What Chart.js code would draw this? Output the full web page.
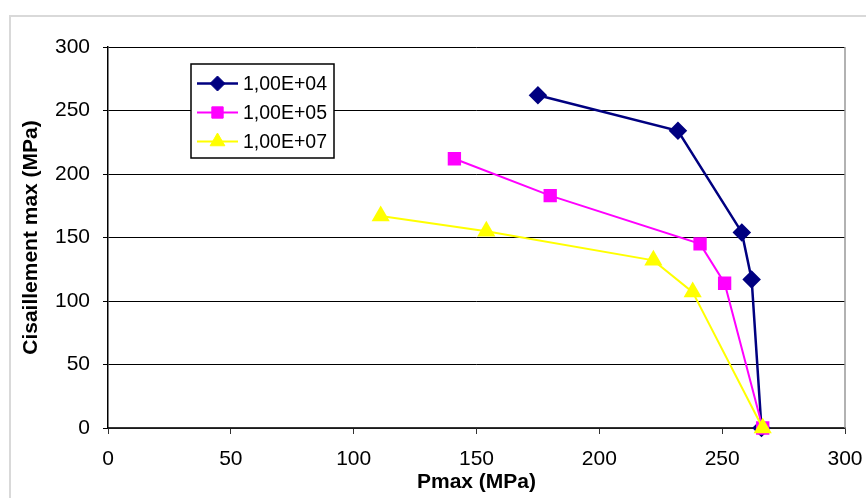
<!DOCTYPE html>
<html>
<head>
<meta charset="utf-8">
<script src="https://cdn.jsdelivr.net/npm/chart.js@4/dist/chart.umd.min.js"></script>
<style>
  html, body { margin: 0; padding: 0; background: #fff; }
  #wrap { width: 866px; height: 498px; }
</style>
</head>
<body>
<div id="wrap"><canvas id="shearChart" width="866" height="498"></canvas></div>
<script>
// valeurs
const seriesLabels = ['1,00E+04', '1,00E+05', '1,00E+07'];
const pmax1 = [175, 232, 258, 262, 266];
const tau1 = [262, 234, 154, 117, 0];
const pmax2 = [141, 180, 241, 251, 266.5];
const tau2 = [212, 183, 145, 114, 0];
const pmax3 = [111, 154, 222, 238, 266.5];
const tau3 = [167, 155, 132, 107, 0];
const axisTicks = [0, 50, 100, 150, 200, 250, 300];

const FONT = '"Liberation Sans", Arial, sans-serif';

function toPoints(xs, ys) {
    return xs.map((x, i) => ({ x: x, y: ys[i] }));
}

// cadre gris clair + bord droit de la zone de tracé + légende encadrée
const excelFrame = {
    id: 'excelFrame',
    beforeDraw(chart) {
        const ctx = chart.ctx;
        ctx.save();
        ctx.fillStyle = '#fff';
        ctx.fillRect(0, 0, chart.width, chart.height);
        ctx.strokeStyle = '#d9d9d9';
        ctx.lineWidth = 2;
        ctx.strokeRect(10, 16, 900, 600);
        ctx.restore();
    },
    afterDatasetsDraw(chart) {
        const ctx = chart.ctx;
        const a = chart.chartArea;
        ctx.save();
        ctx.strokeStyle = '#999';
        ctx.lineWidth = 1.5;
        ctx.beginPath();
        ctx.moveTo(a.right, a.top);
        ctx.lineTo(a.right, a.bottom);
        ctx.stroke();

        // légende
        const bx = 191, by = 64, bw = 143, bh = 94;
        ctx.fillStyle = '#fff';
        ctx.fillRect(bx, by, bw, bh);
        ctx.strokeStyle = '#000';
        ctx.lineWidth = 1.5;
        ctx.strokeRect(bx, by, bw, bh);
        chart.data.datasets.forEach((ds, i) => {
            const y = 83.5 + i * 29;
            ctx.strokeStyle = ds.borderColor;
            ctx.lineWidth = ds.borderWidth;
            ctx.beginPath();
            ctx.moveTo(197, y);
            ctx.lineTo(238, y);
            ctx.stroke();
            ctx.fillStyle = ds.backgroundColor;
            ctx.strokeStyle = ds.borderColor;
            ctx.lineWidth = 1;
            Chart.helpers.drawPoint(ctx, { pointStyle: ds.pointStyle, radius: ds.pointRadius, borderWidth: 1 }, 217.5, y);
            ctx.fillStyle = '#000';
            ctx.font = '19.5px ' + FONT;
            ctx.textAlign = 'left';
            ctx.textBaseline = 'middle';
            ctx.fillText(ds.label, 243, y + 1);
        });
        ctx.restore();
    }
};

document.addEventListener('DOMContentLoaded', () => {
    const ctx = document.getElementById('shearChart').getContext('2d');
    new Chart(ctx, {
        type: 'scatter',
        data: {
            datasets: [
                {
                    label: seriesLabels[0],
                    data: toPoints(pmax1, tau1),
                    showLine: true,
                    order: 3, // dessiné en premier (dessous)
                    borderColor: '#000080',
                    backgroundColor: '#000080',
                    borderWidth: 2.5,
                    pointStyle: 'rectRot',
                    pointRadius: 7.5,
                    pointHoverRadius: 7.5
                },
                {
                    label: seriesLabels[1],
                    data: toPoints(pmax2, tau2),
                    showLine: true,
                    order: 2,
                    borderColor: '#ff00ff',
                    backgroundColor: '#ff00ff',
                    borderWidth: 2,
                    pointStyle: 'rect',
                    pointRadius: 8,
                    pointHoverRadius: 8
                },
                {
                    label: seriesLabels[2],
                    data: toPoints(pmax3, tau3),
                    showLine: true,
                    order: 1,
                    borderColor: '#ffff00',
                    backgroundColor: '#ffff00',
                    borderWidth: 2,
                    pointStyle: 'triangle',
                    pointRadius: 8.5,
                    pointHoverRadius: 8.5
                }
            ]
        },
        options: {
            responsive: false,
            animation: false,
            clip: false,
            layout: { padding: { left: 0, top: 47, right: 21, bottom: 0 } },
            scales: {
                x: {
                    type: 'linear',
                    min: 0,
                    max: 300,
                    afterBuildTicks: (scale) => { scale.ticks = axisTicks.map(v => ({ value: v })); },
                    afterFit: (scale) => { scale.height = 70; scale.paddingLeft = 0; scale.paddingRight = 0; },
                    grid: { drawOnChartArea: false, drawTicks: true, tickLength: 6, color: '#333' },
                    border: { color: '#333', width: 1.5 },
                    ticks: { color: '#000', font: { family: FONT, size: 21 }, padding: 13, maxRotation: 0 },
                    title: {
                        display: true,
                        text: 'Pmax (MPa)',
                        color: '#000',
                        font: { family: FONT, size: 21, weight: 'bold' },
                        padding: { top: 0, bottom: 3 }
                    }
                },
                y: {
                    type: 'linear',
                    min: 0,
                    max: 300,
                    afterBuildTicks: (scale) => { scale.ticks = axisTicks.map(v => ({ value: v })); },
                    afterFit: (scale) => { scale.width = 108; scale.paddingTop = 0; scale.paddingBottom = 0; },
                    grid: { color: '#000', lineWidth: 1, tickLength: 5 },
                    border: { color: '#000', width: 1.5 },
                    ticks: { color: '#000', font: { family: FONT, size: 21 }, padding: 13 },
                    title: {
                        display: true,
                        text: 'Cisaillement max (MPa)',
                        color: '#000',
                        font: { family: FONT, size: 21, weight: 'bold' },
                        padding: { top: 19, bottom: 0 }
                    }
                }
            },
            plugins: {
                legend: { display: false },
                tooltip: { enabled: false }
            }
        },
        plugins: [excelFrame]
    });
});
</script>
</body>
</html>
